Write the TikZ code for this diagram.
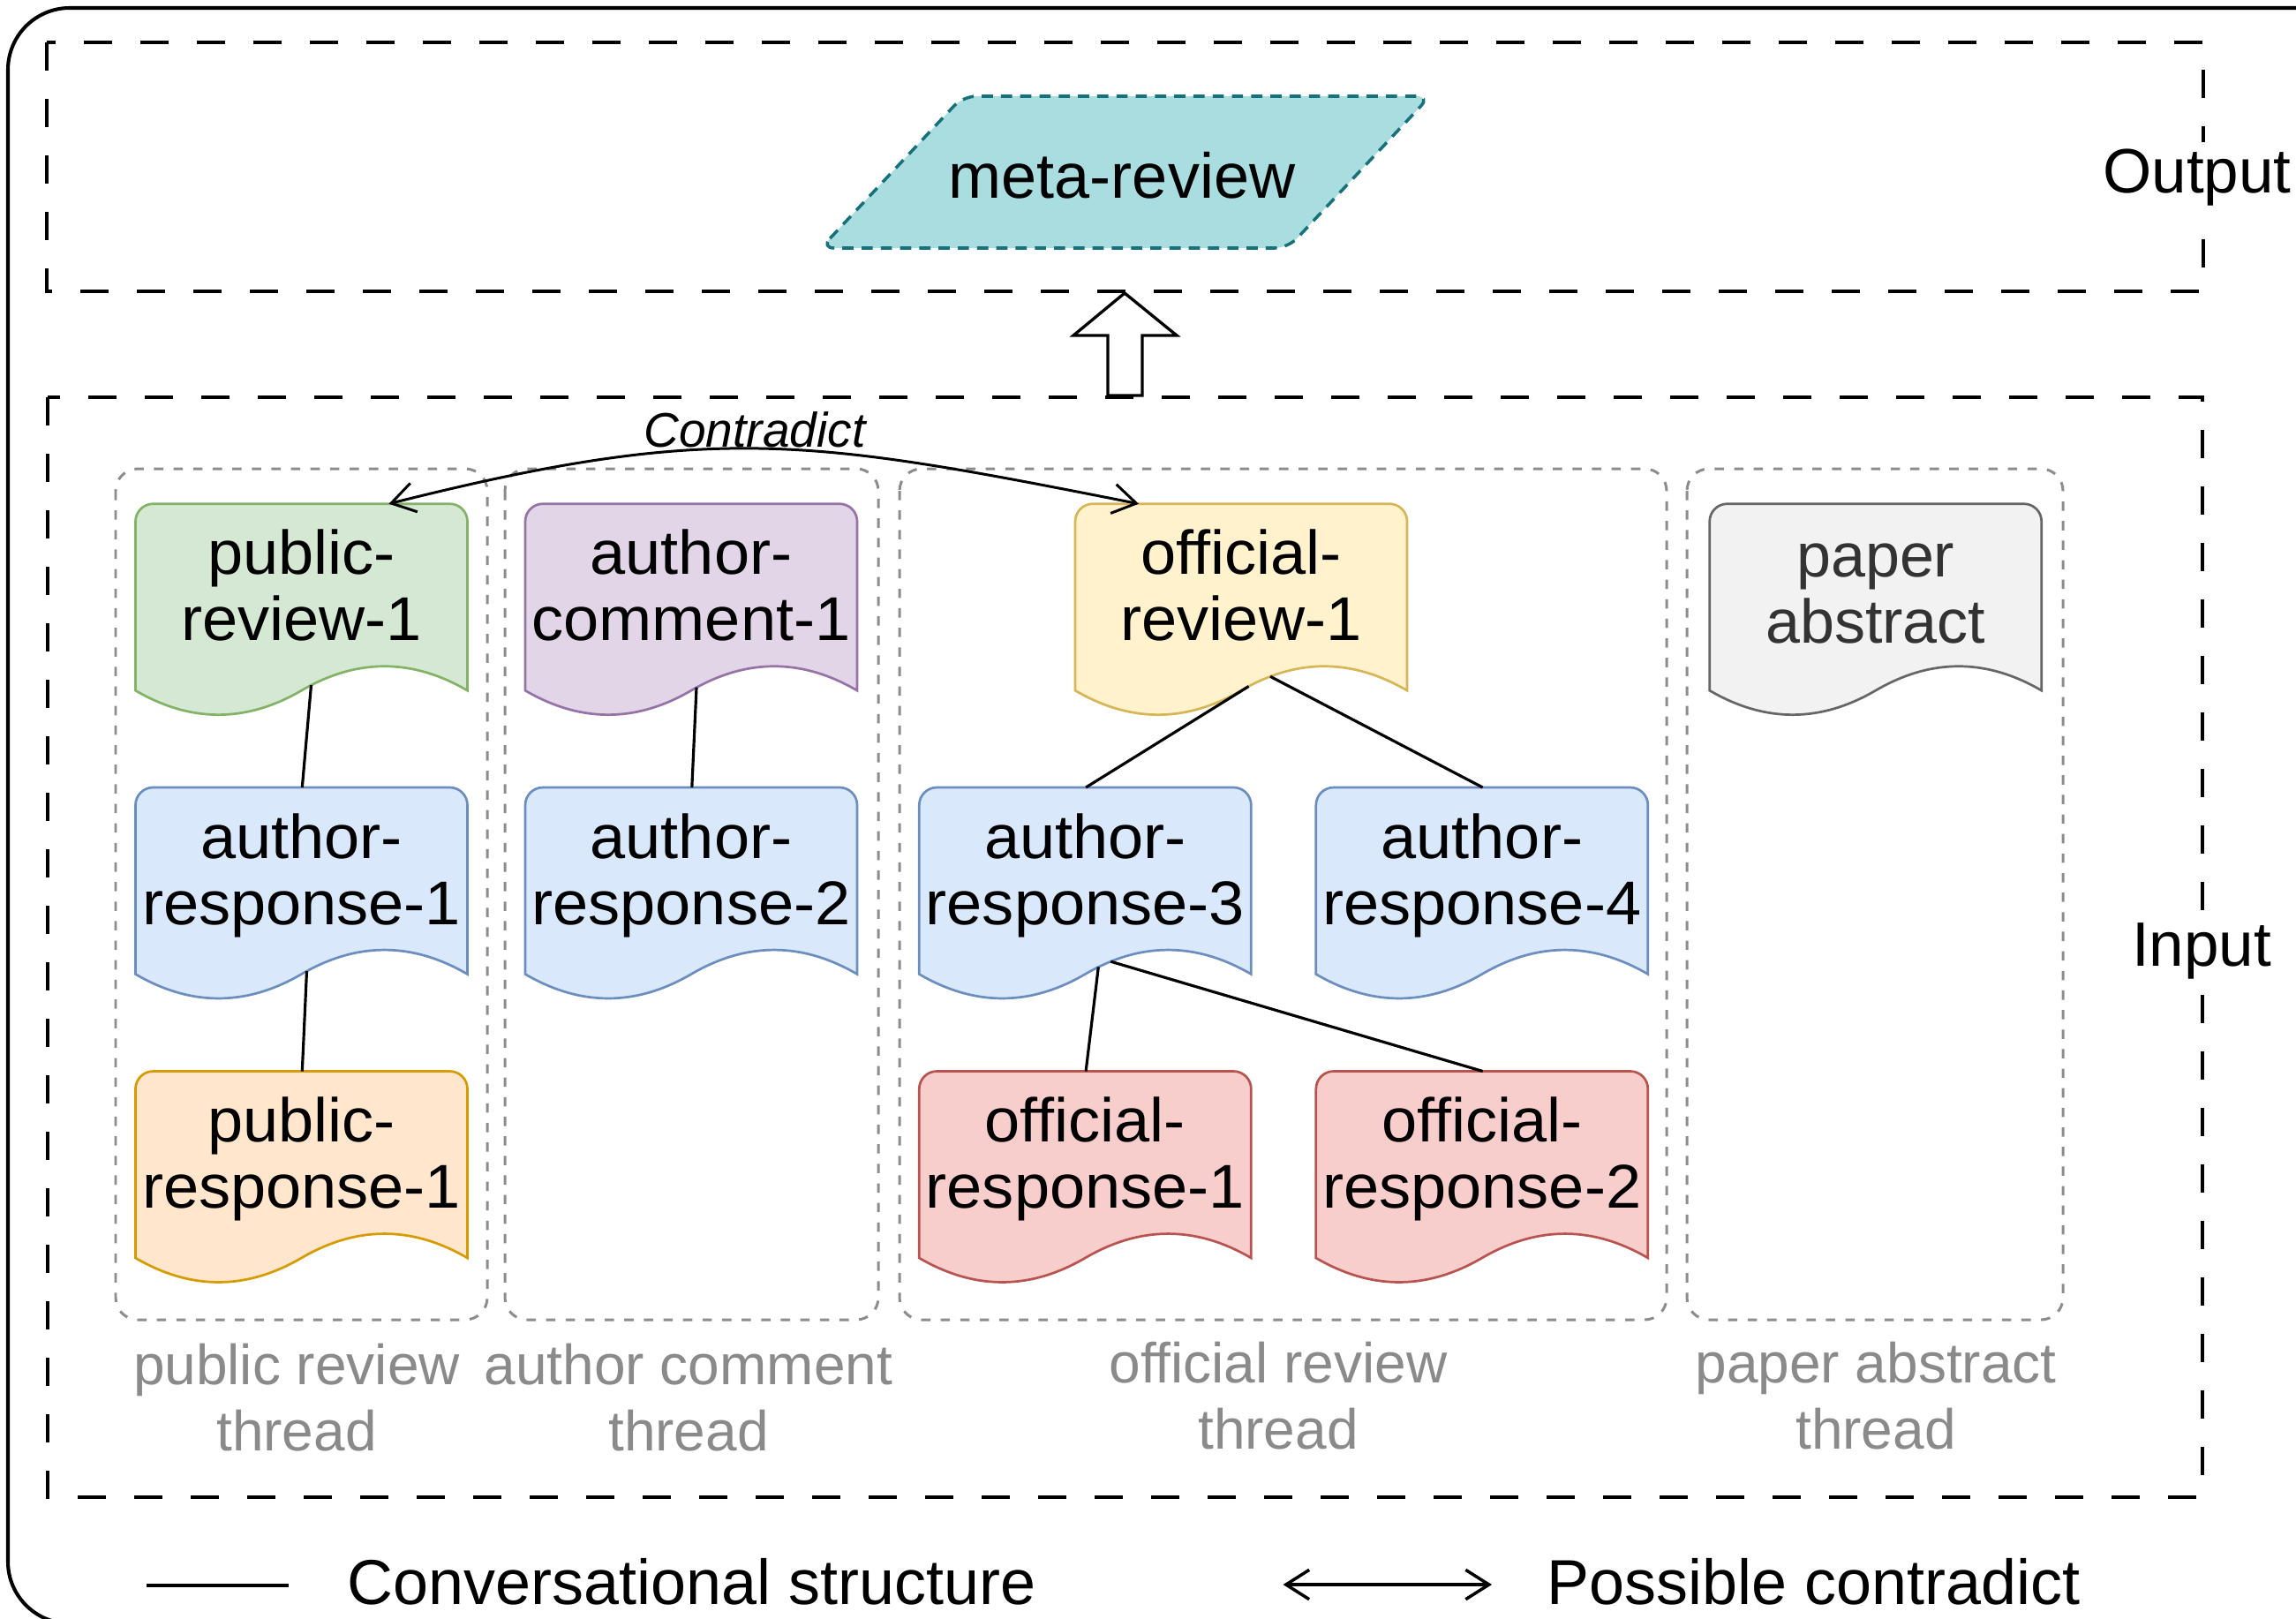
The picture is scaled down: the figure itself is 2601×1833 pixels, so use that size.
\documentclass[tikz,border=0pt]{standalone}
\usepackage{fontspec}
\setmainfont{Liberation Sans}
\newfontfamily\docfont{Liberation Sans}[FakeStretch=1.03]
\usetikzlibrary{arrows.meta,calc}

\definecolor{greenF}{HTML}{D5E8D4}  \definecolor{greenS}{HTML}{82B366}
\definecolor{purpleF}{HTML}{E1D5E7} \definecolor{purpleS}{HTML}{9673A6}
\definecolor{yellowF}{HTML}{FFF2CC} \definecolor{yellowS}{HTML}{D6B656}
\definecolor{blueF}{HTML}{DAE8FC}   \definecolor{blueS}{HTML}{6C8EBF}
\definecolor{orangeF}{HTML}{FFE6CC} \definecolor{orangeS}{HTML}{D79B00}
\definecolor{redF}{HTML}{F8CECC}    \definecolor{redS}{HTML}{B85450}
\definecolor{grayF}{HTML}{F2F2F2}   \definecolor{grayS}{HTML}{666666}
\definecolor{grayT}{HTML}{333333}
\definecolor{tealF}{HTML}{A9DDE0}   \definecolor{tealS}{HTML}{17717A}
\definecolor{threadgray}{HTML}{8C8C8C}
\definecolor{labelgray}{HTML}{8A8A8A}

\newcommand{\setfs}[2]{\fontsize{#1}{#2}\selectfont}

% document shape: rounded top corners, wavy bottom edge
% #1 name, #2 top-left corner, #3 fill, #4 stroke, #5 text style, #6 text
\newcommand{\docnode}[6]{%
  \node[docframe] (#1) at #2 {};
  \begin{scope}[shift={(#1.north west)}]
    \filldraw[fill=#3, draw=#4, docline]
      (0,211.5) -- (0,20) .. controls (0,8.95) and (8.95,0) .. (20,0)
      -- (356,0) .. controls (367.05,0) and (376,8.95) .. (376,20)
      -- (376,211.5) .. controls (313.3,174.9) and (250.7,174.9) .. (188,211.5)
      .. controls (125.3,248.1) and (62.7,248.1) .. (0,211.5) -- cycle;
  \end{scope}
  \node[#5] (#1-text) at ([shift={(188,102.5)}]#1.north west) {#6};
}

\begin{document}
\begin{tikzpicture}[x=0.01cm, y=-0.01cm,
  docframe/.style={rectangle, draw=none, inner sep=0pt, minimum width=3.76cm,
    minimum height=2.42cm, anchor=north west},
  doctext/.style={align=center, inner sep=0pt, font=\docfont\setfs{19.92}{21.34}},
  papertext/.style={align=center, inner sep=0pt, text=grayT,
    font=\setfs{19.92}{19.35}, yshift=-0.039cm},
  docline/.style={line width=0.77pt},
  conn/.style={draw=black, line width=0.9pt},
  barbs/.style={{Straight Barb[length=7.5pt,width=9.5pt]}-{Straight Barb[length=7.5pt,width=9.5pt]}},
  contra/.style={draw=black, line width=0.85pt, barbs},
  bigdash/.style={draw=black, line width=1.15pt, dash pattern=on 9.1pt off 9.1pt},
  threadbox/.style={draw=threadgray, line width=0.85pt, dash pattern=on 3pt off 3.3pt,
    rounded corners=0.25cm},
  threadlabel/.style={align=center, inner sep=0pt, text=labelgray, font=\setfs{18.2}{21.34}},
  sidelabel/.style={anchor=base, fill=white, inner sep=2pt, font=\setfs{20.2}{24}},
  legendtext/.style={anchor=base west, inner sep=0pt, font=\setfs{20.45}{24}},
  outerframe/.style={draw=black, line width=1.15pt, rounded corners=0.7cm},
  metashape/.style={fill=tealF, draw=tealS, line width=1pt,
    dash pattern=on 3.6pt off 2.6pt, rounded corners=0.15cm},
  blockarrow/.style={fill=white, draw=black, line width=0.95pt},
]
\useasboundingbox (0,0) rectangle (2601,1833);
\clip (0,0) rectangle (2601,1833);

% outer frame (runs past the right and bottom edges)
\draw[outerframe] (9,9) rectangle (2700,1839);

% output and input regions
\draw[bigdash] (53,48) rectangle (2496,330);
\draw[bigdash] (54,450) rectangle (2495,1696);

% meta-review
\filldraw[metashape] (930,281) -- (1091,109) -- (1620,109) -- (1459,281) -- cycle;
\node[anchor=base, inner sep=0pt, font=\setfs{20.5}{24}] (meta) at (1271,224) {meta-review};

% hollow arrow from input to output
\filldraw[blockarrow] (1274,332) -- (1333,380) -- (1294,380) -- (1294,448)
  -- (1255,448) -- (1255,380) -- (1216,380) -- cycle;

\node[sidelabel] (outlabel) at (2489,218) {Output};
\node[sidelabel] (inlabel) at (2494,1094) {Input};

% thread containers
\draw[threadbox] (131,531) rectangle (552,1495);
\draw[threadbox] (572,531) rectangle (995,1495);
\draw[threadbox] (1019,531) rectangle (1888,1495);
\draw[threadbox] (1911,531) rectangle (2337,1495);

\node[threadlabel] (thr1) at (336,1590.5) {public review\strut\\thread\strut};
\node[threadlabel] (thr2) at (780,1590.5) {author comment\strut\\thread\strut};
\node[threadlabel] (thr3) at (1448,1589) {official review\strut\\thread\strut};
\node[threadlabel] (thr4) at (2125,1589) {paper abstract\strut\\thread\strut};

% documents
\docnode{pr1}{(153.5,570.7)}{greenF}{greenS}{doctext}{public-\strut\\review-1\strut}
\docnode{ac1}{(595,570.7)}{purpleF}{purpleS}{doctext}{author-\strut\\comment-1\strut}
\docnode{or1}{(1218,570.7)}{yellowF}{yellowS}{doctext}{official-\strut\\review-1\strut}
\docnode{pa}{(1936.7,570.7)}{grayF}{grayS}{papertext}{paper\strut\\abstract\strut}

\docnode{ar1}{(153.5,892)}{blueF}{blueS}{doctext}{author-\strut\\response-1\strut}
\docnode{ar2}{(595,892)}{blueF}{blueS}{doctext}{author-\strut\\response-2\strut}
\docnode{ar3}{(1041.3,892)}{blueF}{blueS}{doctext}{author-\strut\\response-3\strut}
\docnode{ar4}{(1490.8,892)}{blueF}{blueS}{doctext}{author-\strut\\response-4\strut}

\docnode{pres1}{(153.5,1213.5)}{orangeF}{orangeS}{doctext}{public-\strut\\response-1\strut}
\docnode{ores1}{(1041.3,1213.5)}{redF}{redS}{doctext}{official-\strut\\response-1\strut}
\docnode{ores2}{(1490.8,1213.5)}{redF}{redS}{doctext}{official-\strut\\response-2\strut}

% conversational structure
\draw[conn] ([shift={(199,205.4)}]pr1.north west) -- (ar1.north);
\draw[conn] ([shift={(194,208)}]ar1.north west) -- (pres1.north);
\draw[conn] ([shift={(194,208)}]ac1.north west) -- (ar2.north);
\draw[conn] ([shift={(196.5,206.8)}]or1.north west) -- (ar3.north);
\draw[conn] ([shift={(221,195.6)}]or1.north west) -- (ar4.north);
\draw[conn] ([shift={(203,203.4)}]ar3.north west) -- (ores1.north);
\draw[conn] ([shift={(217,197.2)}]ar3.north west) -- (ores2.north);

% possible contradiction
\draw[contra] ([shift={(287,0)}]pr1.north west) .. controls (810,478) and (916,497)
  .. ([shift={(72,0)}]or1.north west);
\node[anchor=base, inner sep=0pt, font=\setfs{15.65}{18}\itshape] (contralabel)
  at (855,506) {Contradict};

% legend
\coordinate (lgA) at (166,1796);
\coordinate (lgB) at (327,1796);
\draw[conn, line width=1pt] (lgA) -- (lgB);
\node[legendtext] (lgtextA) at (393,1817) {Conversational structure};
\coordinate (lgC) at (1453.5,1795);
\coordinate (lgD) at (1690,1795);
\draw[contra, line width=1pt] (lgC) -- (lgD);
\node[legendtext] (lgtextB) at (1752,1817) {Possible contradict};
\end{tikzpicture}
\end{document}
